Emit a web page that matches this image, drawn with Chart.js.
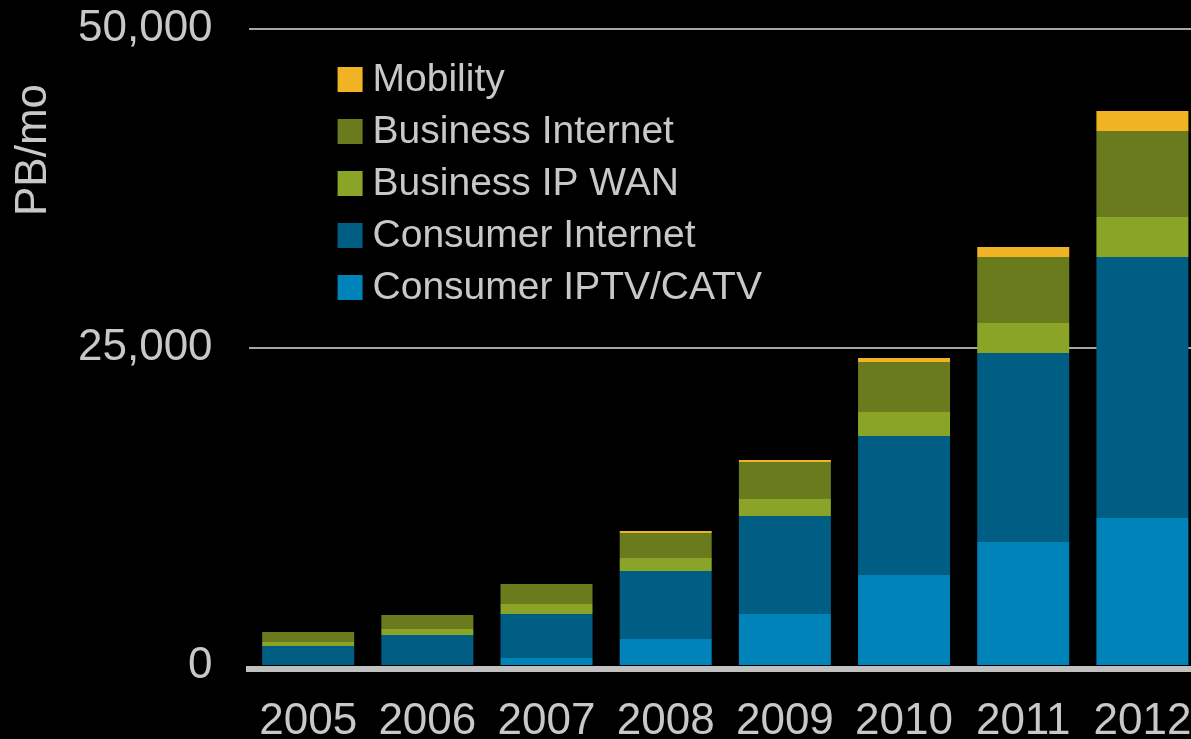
<!DOCTYPE html>
<html>
<head>
<meta charset="utf-8">
<script src="https://cdn.jsdelivr.net/npm/chart.js@4.4.1/dist/chart.umd.min.js"></script>
<style>
  html, body { margin: 0; padding: 0; background: #000; overflow: hidden; }
  canvas { display: block; }
</style>
</head>
<body>
<canvas id="chart" width="1205" height="739"></canvas>
<script>
// Data (PB per month)
const years = ['2005', '2006', '2007', '2008', '2009', '2010', '2011', '2012'];
const consumerIptv = [0, 80, 630, 2120, 4080, 7140, 9730, 11620];
const consumerInternet = [1570, 2355, 3450, 5340, 7690, 10910, 14840, 20490];
const businessWan = [314, 470, 785, 1020, 1335, 1880, 2355, 3140];
const businessInternet = [785, 1100, 1570, 1960, 2900, 3925, 5180, 6750];
const mobility = [0, 0, 0, 157, 157, 314, 785, 1570];
const yTicks = [0, 25000, 50000];

// Styles
const textColor = '#c8c8c8';
const fontFamily = "'Liberation Sans', Arial, sans-serif";

// Vertical legend inside the plot, top item = top of stack
const stackLegend = {
  id: 'stackLegend',
  afterDraw(chart) {
    const ctx = chart.ctx;
    const area = chart.chartArea;
    const items = chart.data.datasets.slice().reverse();
    const x = area.left + 89;
    let y = area.top + 38;
    ctx.save();
    ctx.font = `39px ${fontFamily}`;
    ctx.textBaseline = 'middle';
    items.forEach(ds => {
      ctx.fillStyle = ds.backgroundColor;
      ctx.fillRect(x, y, 25, 25);
      ctx.fillStyle = textColor;
      ctx.fillText(ds.label, x + 35, y + 13);
      y += 52;
    });
    ctx.restore();
  }
};

// Axis title sits near the top of the value axis
const sideTitle = {
  id: 'sideTitle',
  afterDraw(chart) {
    const ctx = chart.ctx;
    ctx.save();
    ctx.translate(34, chart.chartArea.top + 121);
    ctx.rotate(-Math.PI / 2);
    ctx.font = `44px ${fontFamily}`;
    ctx.fillStyle = textColor;
    ctx.textAlign = 'center';
    ctx.textBaseline = 'middle';
    ctx.fillText('PB/mo', 0, 0);
    ctx.restore();
  }
};

const ds = (label, data, color) => ({
  label, data, backgroundColor: color, borderWidth: 0,
  barPercentage: 0.772, categoryPercentage: 1
});

new Chart(document.getElementById('chart'), {
  type: 'bar',
  data: {
    labels: years,
    datasets: [
      ds('Consumer IPTV/CATV', consumerIptv, '#0083b8'),
      ds('Consumer Internet', consumerInternet, '#005e85'),
      ds('Business IP WAN', businessWan, '#8aa428'),
      ds('Business Internet', businessInternet, '#6a7b1d'),
      ds('Mobility', mobility, '#f0b323')
    ]
  },
  options: {
    responsive: false,
    animation: false,
    layout: { padding: { left: 78, top: 29, right: 3, bottom: 3 } },
    plugins: {
      legend: { display: false },
      tooltip: { enabled: false }
    },
    scales: {
      x: {
        stacked: true,
        grid: { display: false, drawTicks: false },
        border: { display: true, color: '#c0c0c0', width: 6 },
        ticks: {
          color: textColor,
          padding: 26,
          font: { family: fontFamily, size: 44 }
        },
        afterFit: scale => {
          scale.height = 67;
          scale.paddingLeft = 0;
          scale.paddingRight = 0;
        }
      },
      y: {
        stacked: true,
        min: -235,
        max: 50000,
        afterBuildTicks: scale => { scale.ticks = yTicks.map(v => ({ value: v })); },
        afterFit: scale => {
          scale.paddingTop = 0;
          scale.paddingBottom = 0;
        },
        border: { display: false },
        grid: {
          drawTicks: true,
          tickLength: 36,
          tickColor: 'rgba(0,0,0,0)',
          lineWidth: 2,
          color: c => (c.tick && c.tick.value === 0) ? 'rgba(0,0,0,0)' : '#a6a6a6'
        },
        ticks: {
          color: textColor,
          padding: 0,
          font: { family: fontFamily, size: 44 },
          callback: v => v.toLocaleString('en-US')
        }
      }
    }
  },
  plugins: [stackLegend, sideTitle]
});
</script>
</body>
</html>
